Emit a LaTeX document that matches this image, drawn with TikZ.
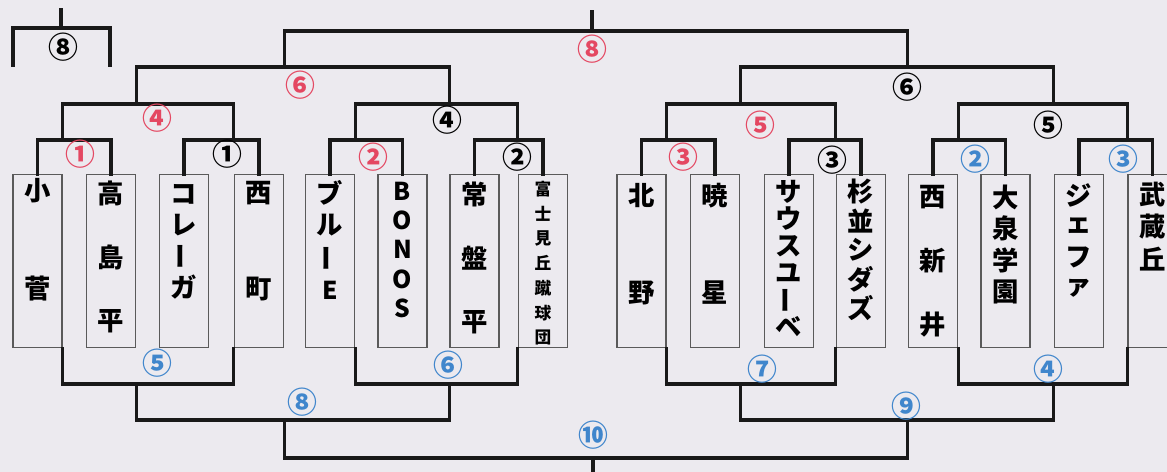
\documentclass[tikz,border=0pt]{standalone}
\usepackage{fontspec}
\usepackage{graphicx}
\usepackage{tikz}
\usetikzlibrary{calc}
\newfontfamily\jp{Noto Sans CJK JP}
\definecolor{paper}{RGB}{236,234,239}
\definecolor{boxgray}{RGB}{90,90,90}
\definecolor{winred}{RGB}{228,72,98}
\definecolor{loseblue}{RGB}{64,134,204}
\newcommand{\vbar}{\rotatebox{90}{ー}}
\newcommand{\lat}[1]{{\fontsize{14}{15}\selectfont #1}}
\newcommand{\teamname}[5][]{%
  \foreach \chr [count=\i from 0] in {#5}
    \node[ch,#1] (#2c\i) at ($(#2.north)+(0,#3+#4*\i)$) {\chr};}

\begin{document}
\begin{tikzpicture}[line cap=rect,line join=miter,x=0.02cm,y=-0.02cm,
  bracket/.style={line width=1.8pt,color=black!90},
  team/.style={draw=boxgray,line width=0.7pt,minimum width=0.98cm,minimum height=3.46cm,anchor=north,inner sep=0pt},
  ch/.style={font=\jp\bfseries\fontsize{15}{15}\selectfont,inner sep=0pt},
  chs/.style={font=\jp\bfseries\fontsize{9.5}{10}\selectfont},
  rnd/.style={font=\jp\bfseries\fontsize{17}{17}\selectfont,inner sep=0pt}]
\useasboundingbox (0,0) rectangle (1167,472);
\clip (0,0) rectangle (1167,472);
\fill[paper] (0,0) rectangle (1167,472);
\foreach \n/\x in {1/37.5,2/111,3/184,4/259,5/330,6/402.5,7/474.5,8/543,9/641.5,10/715,11/789,12/861,13/933,14/1005.5,15/1079,16/1152.5}
  \node[team] (b\n) at (\x,174) {};
\teamname{b1}{17}{98}{小,菅}
\teamname{b2}{19}{64}{高,島,平}
\teamname{b3}{20}{31}{コ,レ,\vbar,ガ}
\teamname{b4}{19}{96}{西,町}
\teamname{b5}{19}{32.5}{ブ,ル,\vbar,\lat{E}}
\teamname{b6}{17}{29.3}{\lat{B},\lat{O},\lat{N},\lat{O},\lat{S}}
\teamname{b7}{20}{64}{常,盤,平}
\teamname[chs]{b8}{15}{24.8}{富,士,見,丘,蹴,球,団}
\teamname{b9}{22}{97}{北,野}
\teamname{b10}{22}{97}{暁,星}
\teamname{b11}{18}{27}{サ,ウ,ス,ユ,\vbar,ベ}
\teamname{b12}{18}{29}{杉,並,シ,ダ,ズ}
\teamname{b13}{23}{64}{西,新,井}
\teamname{b14}{23}{31.7}{大,泉,学,園}
\teamname{b15}{21}{31}{ジ,ェ,フ,ァ}
\teamname{b16}{21}{32}{武,蔵,丘}
\foreach \l/\r in {1/2,3/4,5/6,7/8,9/10,11/12,13/14,15/16}
  \draw[bracket] (b\l.north) -- (b\l.north |- 0,140) -- (b\r.north |- 0,140) -- (b\r.north);
\foreach \l/\r in {1/4,5/8,9/12,13/16}
  \draw[bracket] (b\l.north east |- 0,140) -- (b\l.north east |- 0,104) -- (b\r.north west |- 0,104) -- (b\r.north west |- 0,140);
\foreach \l/\r in {2/7,10/15}
  \draw[bracket] (b\l.north east |- 0,104) -- (b\l.north east |- 0,67) -- (b\r.north west |- 0,67) -- (b\r.north west |- 0,104);
\draw[bracket] (b4.north east |- 0,67) -- (b4.north east |- 0,31) -- (b13.north west |- 0,31) -- (b13.north west |- 0,67);
\coordinate (topend) at (592,12);
\draw[bracket] (topend |- 0,31) -- (topend);
\foreach \l/\r in {1/4,5/8,9/12,13/16}
  \draw[bracket] (b\l.south east) -- (b\l.south east |- 0,384) -- (b\r.south west |- 0,384) -- (b\r.south west);
\foreach \l/\r in {2/7,10/15}
  \draw[bracket] (b\l.south east |- 0,384) -- (b\l.south east |- 0,420) -- (b\r.south west |- 0,420) -- (b\r.south west |- 0,384);
\draw[bracket] (b4.south east |- 0,420) -- (b4.south east |- 0,458) -- (b13.south west |- 0,458) -- (b13.south west |- 0,420);
\coordinate (botend) at (593,480);
\draw[bracket] (botend |- 0,458) -- (botend);
\coordinate (oldl) at (13,65);
\coordinate (oldr) at (110,65);
\coordinate (oldtop) at (61,10);
\draw[bracket] (oldl) -- (oldl |- 0,28) -- (oldr |- 0,28) -- (oldr);
\draw[bracket] (oldtop |- 0,28) -- (oldtop);
\node[rnd] (old8) at (63,47) {⑧};
\node[rnd,text=winred] (w1a) at (80,154) {①};
\node[rnd] (k1a) at (227,154) {①};
\node[rnd,text=winred] (w2a) at (373,157) {②};
\node[rnd] (k2a) at (517,157) {②};
\node[rnd,text=winred] (w3a) at (683,157) {③};
\node[rnd] (k3a) at (832,160) {③};
\node[rnd,text=loseblue] (l2a) at (975,159) {②};
\node[rnd,text=loseblue] (l3a) at (1123,159) {③};
\node[rnd,text=winred] (w4) at (157,118) {④};
\node[rnd] (k4) at (447,120) {④};
\node[rnd,text=winred] (w5) at (760,125) {⑤};
\node[rnd] (k5) at (1048,125) {⑤};
\node[rnd,text=winred] (w6) at (300,85) {⑥};
\node[rnd] (k6) at (907,87) {⑥};
\node[rnd,text=winred] (w8) at (592,49) {⑧};
\node[rnd,text=loseblue] (l5) at (157,363) {⑤};
\node[rnd,text=loseblue] (l6) at (448,365) {⑥};
\node[rnd,text=loseblue] (l7) at (762,369) {⑦};
\node[rnd,text=loseblue] (l4) at (1048,369) {④};
\node[rnd,text=loseblue] (l8) at (302,402) {⑧};
\node[rnd,text=loseblue] (l9) at (906,406) {⑨};
\node[rnd,text=loseblue] (l10) at (593,435) {⑩};
\end{tikzpicture}
\end{document}
